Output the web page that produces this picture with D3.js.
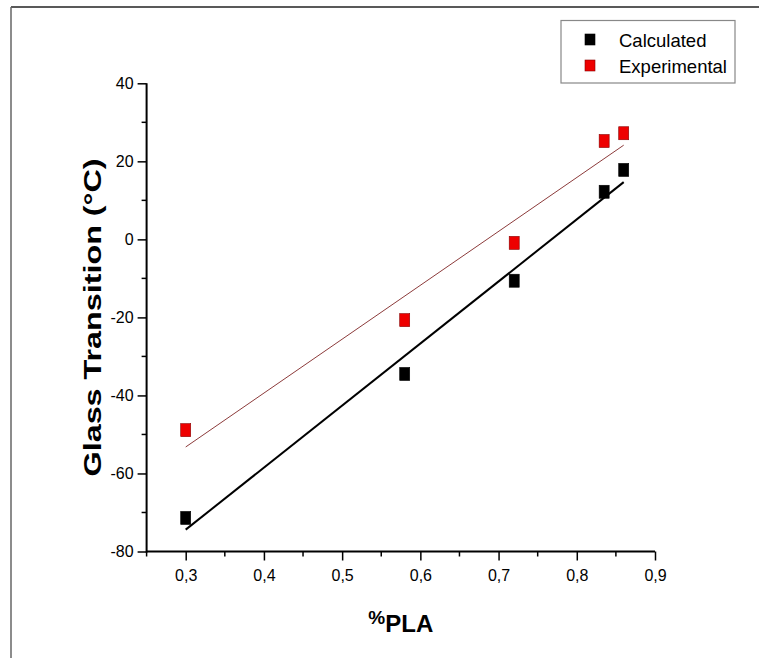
<!DOCTYPE html>
<html>
<head>
<meta charset="utf-8">
<script src="https://cdn.jsdelivr.net/npm/d3@7"></script>
<style>
  html, body { margin: 0; padding: 0; background: #fff; }
  svg { display: block; font-family: Arial, "Liberation Sans", sans-serif; }
</style>
</head>
<body>
<div id="chart"></div>
<script>
// ---- data ----
const pla = [0.30, 0.58, 0.72, 0.835, 0.86];
const calculated = [-71.4, -34.5, -10.6, 12.2, 17.8];
const experimental = [-48.9, -20.7, -0.9, 25.2, 27.2];
const seriesNames = ["Calculated", "Experimental"];
const seriesColors = ["#000000", "#ee0000"];
const fitColors = ["#000000", "#8c3b3b"];
const xTicks = [0.3, 0.4, 0.5, 0.6, 0.7, 0.8, 0.9];
const yTicks = [-80, -60, -40, -20, 0, 20, 40];
const xLabel = "PLA";
const yLabel = "Glass Transition (°C)";

// ---- layout ----
const W = 759, H = 658;
const x0 = 146.6, x1 = 655, y0 = 551.5, y1 = 83.3;

const svg = d3.select("#chart").append("svg").attr("width", W).attr("height", H);

// outer frame (top + left)
svg.append("line").attr("x1", 11).attr("y1", 7).attr("x2", W).attr("y2", 7)
  .attr("stroke", "#222").attr("stroke-width", 1.5);
svg.append("line").attr("x1", 11).attr("y1", 7).attr("x2", 11).attr("y2", H)
  .attr("stroke", "#666").attr("stroke-width", 1.5);

const x = d3.scaleLinear().domain([0.25, 0.9]).range([x0, x1]);
const y = d3.scaleLinear().domain([-80, 40]).range([y0, y1]);

const fmtX = d => d3.format(".1f")(d).replace(".", ",");
const fmtY = d => String(d);

// minor ticks
const xMinor = d3.range(0.25, 0.9001, 0.05).filter(v => !xTicks.some(t => Math.abs(t - v) < 1e-6));
const yMinor = d3.range(-70, 40, 20);

const gx = svg.append("g").attr("transform", `translate(0,${y0})`);
gx.selectAll(".minor").data(xMinor).join("line")
  .attr("x1", d => x(d)).attr("x2", d => x(d)).attr("y1", 0).attr("y2", 5)
  .attr("stroke", "#000").attr("stroke-width", 1.5);
gx.call(d3.axisBottom(x).tickValues(xTicks).tickFormat(fmtX).tickSizeInner(9).tickSizeOuter(0).tickPadding(9));
gx.select(".domain").attr("stroke-width", 2).attr("d", `M${x0},0H${x1}`);
gx.selectAll(".tick line").attr("stroke-width", 1.5);
gx.selectAll(".tick text").style("font-size", "16px").style("fill", "#000")
  .style("font-family", "Arial, 'Liberation Sans', sans-serif");

const gy = svg.append("g").attr("transform", `translate(${x0},0)`);
gy.selectAll(".minor").data(yMinor).join("line")
  .attr("x1", 0).attr("x2", -5).attr("y1", d => y(d)).attr("y2", d => y(d))
  .attr("stroke", "#000").attr("stroke-width", 1.5);
gy.call(d3.axisLeft(y).tickValues(yTicks).tickFormat(fmtY).tickSizeInner(9).tickSizeOuter(0).tickPadding(4));
gy.select(".domain").attr("stroke-width", 2).attr("d", `M0,${y0 + 1}V${y1}`);
gy.selectAll(".tick line").attr("stroke-width", 1.5);
gy.selectAll(".tick text").style("font-size", "16px").style("fill", "#000")
  .style("font-family", "Arial, 'Liberation Sans', sans-serif");

// ---- linear fits ----
function fit(xs, ys) {
  const mx = d3.mean(xs), my = d3.mean(ys);
  const sxy = d3.sum(xs, (v, i) => (v - mx) * (ys[i] - my));
  const sxx = d3.sum(xs, v => (v - mx) * (v - mx));
  const b = sxy / sxx, a = my - b * mx;
  const ext = d3.extent(xs);
  return ext.map(v => [v, a + b * v]);
}
const allSeries = [calculated, experimental];
const line = d3.line().x(d => x(d[0])).y(d => y(d[1]));
allSeries.forEach((ys, i) => {
  svg.append("path").datum(fit(pla, ys)).attr("d", line)
    .attr("fill", "none").attr("stroke", fitColors[i]).attr("stroke-width", i === 0 ? 2 : 1);
});

// ---- markers ----
const mw = 10, mh = 13;
allSeries.forEach((ys, i) => {
  svg.append("g").selectAll("rect").data(pla.map((p, j) => [p, ys[j]])).join("rect")
    .attr("x", d => x(d[0]) - mw / 2).attr("y", d => y(d[1]) - mh / 2)
    .attr("width", mw).attr("height", mh)
    .attr("fill", seriesColors[i])
    .attr("stroke", i === 0 ? "#000" : "#800").attr("stroke-width", 0.6);
});

// ---- axis titles ----
const xt = svg.append("text").attr("x", (x0 + x1) / 2).attr("y", 632)
  .attr("text-anchor", "middle").attr("font-weight", "bold").attr("fill", "#000");
xt.append("tspan").attr("font-size", 19).attr("dy", -8).text("%");
xt.append("tspan").attr("font-size", 24).attr("dy", 8).text(xLabel);

svg.append("text")
  .attr("transform", `translate(101,${(y0 + y1) / 2}) rotate(-90)`)
  .attr("text-anchor", "middle").attr("font-weight", "bold").attr("font-size", 24)
  .attr("textLength", 318).attr("lengthAdjust", "spacingAndGlyphs")
  .attr("fill", "#000").text(yLabel);

// ---- legend ----
const lg = svg.append("g");
lg.append("rect").attr("x", 561).attr("y", 20.5).attr("width", 174).attr("height", 62.5)
  .attr("fill", "#fff").attr("stroke", "#888").attr("stroke-width", 1.2);
seriesNames.forEach((n, i) => {
  const cy = 39.5 + i * 26;
  lg.append("rect").attr("x", 585).attr("y", cy - 5.5).attr("width", 10).attr("height", 11)
    .attr("fill", seriesColors[i]).attr("stroke", i === 0 ? "#000" : "#800").attr("stroke-width", 0.6);
  lg.append("text").attr("x", 619).attr("y", cy + 7).attr("font-size", 18.5).attr("fill", "#000").text(n);
});
</script>
</body>
</html>
